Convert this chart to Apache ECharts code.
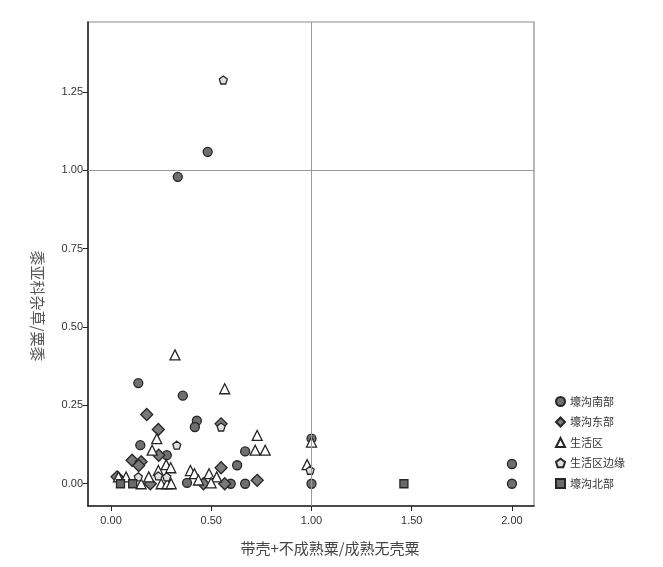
<!DOCTYPE html>
<html><head><meta charset="utf-8">
<script src="https://cdn.jsdelivr.net/npm/echarts@6/dist/echarts.min.js"></script>
<style>html,body{margin:0;padding:0;background:#fff}#c{width:663px;height:567px}</style>
</head><body><div id="c"></div>
<script>
const seriesNames = ['壕沟南部','壕沟东部','生活区','生活区边缘','壕沟北部'];
const xTicks = [0, 0.5, 1.0, 1.5, 2.0];
const yTicks = [0, 0.25, 0.5, 0.75, 1.0, 1.25];
const xName = '带壳+不成熟粟/成熟无壳粟';
const yName = '黍亚科杂草/粟黍';

const south = [[0.333,0.979],[0.482,1.059],[0.136,0.321],[0.358,0.281],[0.428,0.201],[0.418,0.181],[0.146,0.123],[0.278,0.091],[0.669,0.103],[0.629,0.059],[1.0,0.144],[0.379,0.003],[0.597,0],[0.669,0],[1.0,0],[2.0,0.063],[2.0,0]];
const east = [[0.178,0.221],[0.236,0.173],[0.549,0.191],[0.238,0.091],[0.105,0.075],[0.150,0.070],[0.138,0.058],[0.549,0.051],[0.729,0.011],[0.030,0.022],[0.196,0],[0.461,0],[0.567,0]];
const living = [[0.319,0.411],[0.567,0.303],[0.228,0.144],[0.729,0.154],[0.205,0.107],[0.719,0.107],[0.769,0.107],[1.0,0.133],[0.275,0.061],[0.298,0.051],[0.236,0.042],[0.396,0.042],[0.416,0.032],[0.436,0.012],[0.489,0.032],[0.527,0.022],[0.499,0.003],[0.978,0.061],[0.037,0.022],[0.075,0.022],[0.188,0.022],[0.150,0],[0.250,0],[0.280,0],[0.300,0]];
const edge = [[0.560,1.288],[0.328,0.123],[0.549,0.181],[0.136,0.022],[0.278,0.022],[0.993,0.043],[0.236,0.025]];
const north = [[0.047,0],[0.108,0],[1.461,0]];

const pent = 'path://M0,-1 L0.951,-0.309 L0.588,0.809 L-0.588,0.809 L-0.951,-0.309 Z';
const chart = echarts.init(document.getElementById('c'), null, {renderer:'canvas'});
const font = "'Liberation Sans', Arial, sans-serif";
const cjk = "'Noto Sans CJK SC', sans-serif";
const mk = (name, data, symbol, size, fill) => ({
  name, type:'scatter', data, symbol, symbolSize:size,
  itemStyle:{color:fill, borderColor:'#262626', borderWidth:1.3, opacity:1},
  emphasis:{disabled:true}
});
const s0 = mk(seriesNames[0], south, 'circle', 9, '#6f6f6f');
s0.markLine = {silent:true, symbol:['none','none'], label:{show:false},
  lineStyle:{color:'#9a9a9a', width:1, type:'solid'},
  data:[{xAxis:1.0},{yAxis:1.0}]};
chart.setOption({
  animation:false,
  backgroundColor:'#fff',
  grid:{left:88, top:22, right:129, bottom:61, show:true, borderColor:'#8a8a8a', borderWidth:1.2},
  xAxis:{type:'value', min:-0.115, max:2.11,
    axisLine:{show:true, onZero:false, lineStyle:{color:'#222', width:1.5}},
    axisTick:{show:true, length:5, lineStyle:{color:'#222'}, customValues:xTicks},
    axisLabel:{color:'#333', fontSize:11, fontFamily:font, margin:9, customValues:xTicks,
      formatter:v=>v.toFixed(2)},
    splitLine:{show:false}},
  yAxis:{type:'value', min:-0.071, max:1.473,
    axisLine:{show:true, onZero:false, lineStyle:{color:'#222', width:1.5}},
    axisTick:{show:true, length:5, lineStyle:{color:'#222'}, customValues:yTicks},
    axisLabel:{color:'#333', fontSize:11, fontFamily:font, margin:5, customValues:yTicks,
      formatter:v=>v.toFixed(2)},
    splitLine:{show:false}},
  legend:{orient:'vertical', left:550, top:391, itemGap:9.5, itemWidth:9, itemHeight:9,
    textStyle:{color:'#333', fontSize:11, fontFamily:cjk}, data:seriesNames},
  graphic:[
    {type:'text', x:330, y:548, style:{text:xName, fill:'#444', font:"15px "+cjk, textAlign:'center', textVerticalAlign:'middle'}},
    {type:'text', x:38, y:306, rotation:-Math.PI/2, style:{text:yName, fill:'#555', font:"15px "+cjk, textAlign:'center', textVerticalAlign:'middle'}}
  ],
  series:[
    s0,
    mk(seriesNames[1], east, 'diamond', 12, '#7a7a7a'),
    mk(seriesNames[2], living, 'triangle', 10, '#ffffff'),
    mk(seriesNames[3], edge, pent, 8, '#e0e0e0'),
    mk(seriesNames[4], north, 'rect', 8, '#6a6a6a')
  ]
});
</script></body></html>
